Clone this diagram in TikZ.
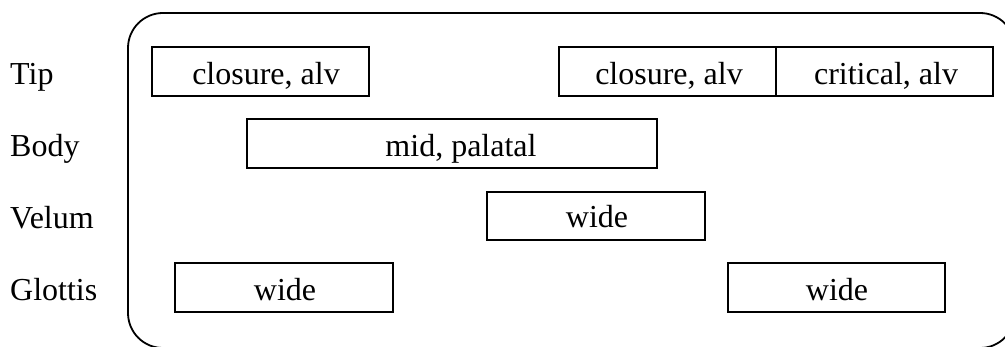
\documentclass[tikz,border=0pt]{standalone}
\usepackage{fontspec}
\setmainfont{Liberation Serif}
\begin{document}
\begin{tikzpicture}[x=1pt,y=-1pt,
  gbox/.style={draw=black,line width=1.5pt},
  lab/.style={anchor=base,inner sep=0pt,font=\fontsize{32}{38}\selectfont},
  rowlab/.style={anchor=base west,inner sep=0pt,font=\fontsize{32}{38}\selectfont}]
\useasboundingbox (0,0) rectangle (1005,347);
% outer frame
\draw[line width=1.8pt,rounded corners=35pt] (128,13) rectangle (1015,348);
% row labels
\node[rowlab] (tip) at (10,85) {Tip};
\node[rowlab] (body) at (10,157) {Body};
\node[rowlab] (velum) at (10,229) {Velum};
\node[rowlab] (glottis) at (10,301) {Glottis};
% gesture boxes
\draw[gbox] (152,47) rectangle (369,96);
\draw[gbox] (559,47) rectangle (776,96);
\draw[gbox] (776,47) rectangle (993,96);
\draw[gbox] (247,119) rectangle (657,168);
\draw[gbox] (487,192) rectangle (705,240);
\draw[gbox] (175,263) rectangle (393,312);
\draw[gbox] (728,263) rectangle (945,312);
% box texts
\node[lab] (t1) at (266,85) {closure, alv};
\node[lab] (t2) at (669,85) {closure, alv};
\node[lab] (t3) at (886,85) {critical, alv};
\node[lab] (b1) at (461,157) {mid, palatal};
\node[lab] (v1) at (597,228) {wide};
\node[lab] (g1) at (285,301) {wide};
\node[lab] (g2) at (837,301) {wide};
\end{tikzpicture}
\end{document}
